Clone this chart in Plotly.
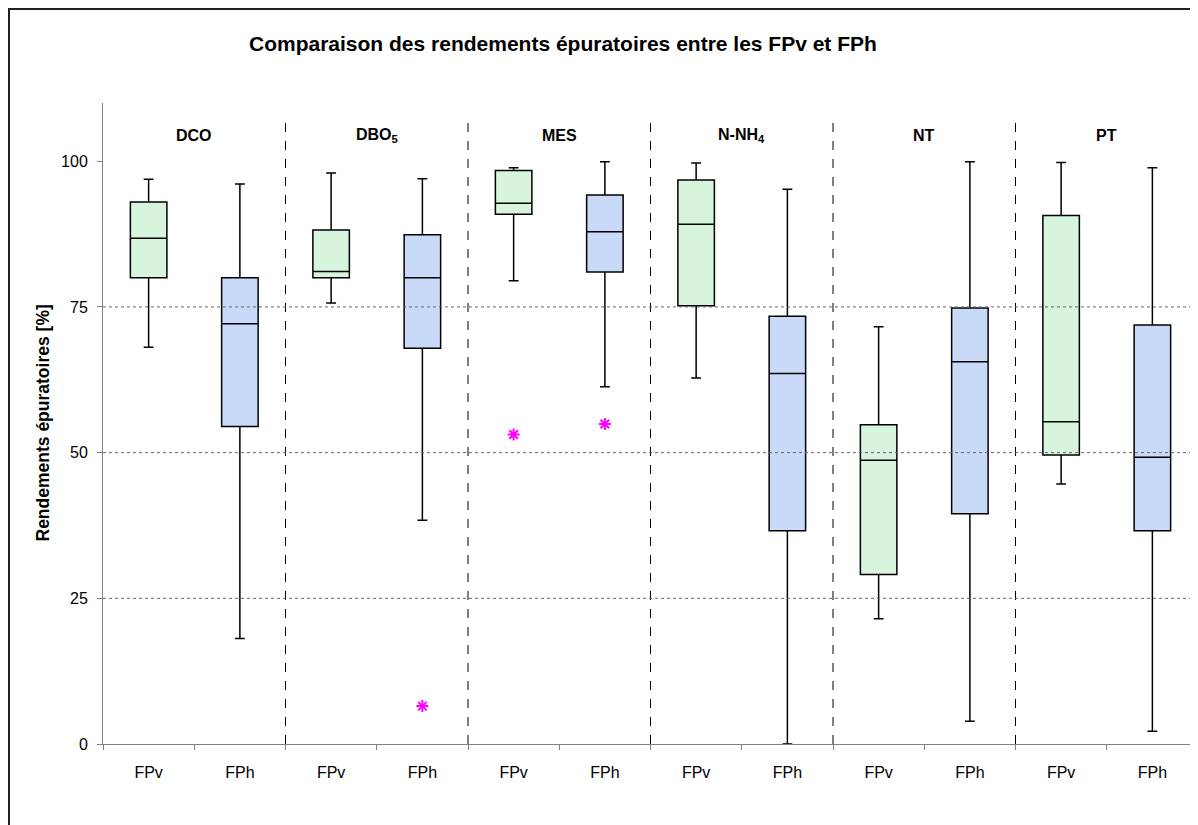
import plotly.graph_objects as go

# Data (rendements épuratoires, %)
groups = ["DCO", "DBO<sub>5</sub>", "MES", "N-NH<sub>4</sub>", "NT", "PT"]
filieres = ["FPv", "FPh"]

lower = [68.1, 18.1, 75.7, 38.4, 79.5, 61.3, 62.8, 0.0, 21.5, 3.9, 44.6, 2.2]
q1 = [80.0, 54.5, 80.0, 67.9, 90.9, 81.0, 75.2, 36.6, 29.1, 39.5, 49.6, 36.6]
median = [86.8, 72.1, 81.1, 80.0, 92.8, 87.9, 89.2, 63.6, 48.7, 65.6, 55.3, 49.2]
q3 = [93.0, 80.0, 88.2, 87.4, 98.4, 94.2, 96.8, 73.4, 54.8, 74.8, 90.7, 71.9]
upper = [96.9, 96.1, 98.0, 97.0, 98.9, 99.9, 99.7, 95.2, 71.6, 99.9, 99.8, 98.9]

outlier_idx = [3, 4, 5]
outlier_val = [6.5, 53.1, 54.9]

grid_vals = [25, 50, 75]
ytick_vals = [0, 25, 50, 75, 100]

colors = {"FPv": "#d7f4dc", "FPh": "#c9d9f8"}

# page body has an 8px margin, so the figure starts at (8, 8) on screen
OFF = 8
W, H = 1190, 817
ML, MR, MT, MB = 95, 0, 95, 81


def px_x(p):
    # screen pixel -> paper fraction
    return (p - OFF - ML) / (W - ML - MR)


def px_y(p):
    return 1 - (p - OFF - MT) / (H - MT - MB)


labels = [f for g in groups for f in filieres]
x = list(range(len(labels)))

fig = go.Figure()

for i, lab in enumerate(labels):
    fig.add_trace(go.Box(
        x=[x[i]],
        q1=[q1[i]], median=[median[i]], q3=[q3[i]],
        lowerfence=[lower[i]], upperfence=[upper[i]],
        width=0.4, whiskerwidth=0.27,
        fillcolor=colors[lab],
        line=dict(color="black", width=1.5),
        boxpoints=False, showlegend=False, hoverinfo="skip",
    ))

# outliers
fig.add_trace(go.Scatter(
    x=[x[i] for i in outlier_idx], y=outlier_val, mode="markers",
    marker=dict(symbol="asterisk-open", size=10, color="#ff00ff",
                line=dict(color="#ff00ff", width=2)),
    showlegend=False,
))

# dotted horizontal lines
for v in grid_vals:
    fig.add_shape(type="line", xref="paper", x0=0, x1=1, yref="y", y0=v, y1=v,
                  line=dict(color="#666", width=1, dash="dot"), layer="above")

# dashed separators between groups
for k in range(1, len(groups)):
    xv = 2 * k - 0.5
    fig.add_shape(type="line", xref="x", x0=xv, x1=xv, yref="y", y0=0, y1=106.7,
                  line=dict(color="black", width=1, dash="dash"), layer="below")

# group names
for k, g in enumerate(groups):
    fig.add_annotation(x=2 * k + 0.5, xref="x", y=px_y(136), yref="paper",
                       yanchor="middle", xanchor="center",
                       text=f"<b>{g}</b>", showarrow=False,
                       font=dict(size=16, color="black"))

# outer frame
fig.add_shape(type="rect", xref="paper", yref="paper",
              x0=px_x(9), x1=px_x(1240), y0=px_y(870), y1=px_y(9),
              line=dict(color="#222", width=2), layer="below")

fig.add_annotation(x=px_x(563), y=px_y(43), xref="paper", yref="paper",
                   xanchor="center", yanchor="middle",
                   text="<b>Comparaison des rendements épuratoires entre les FPv et FPh</b>",
                   showarrow=False, font=dict(size=21, color="black"))

fig.add_annotation(x=px_x(42), y=0.5, xref="paper", yref="paper",
                   xanchor="center", yanchor="middle",
                   text="<b>Rendements épuratoires [%]</b>", textangle=-90,
                   showarrow=False, font=dict(size=17.5, color="black"))

fig.update_xaxes(
    range=[-0.5, len(labels) - 0.5], tickvals=x, ticktext=labels,
    ticks="", showgrid=False, zeroline=False,
    showline=True, linecolor="#808080", linewidth=1,
    ticklabelstandoff=14,
    tickfont=dict(size=16, color="black"),
    minor=dict(tickvals=[i - 0.5 for i in range(len(labels) + 1)],
               ticks="outside", ticklen=5, tickcolor="#808080", showgrid=False),
)
fig.update_yaxes(
    range=[0, 110], tickvals=ytick_vals, ticks="outside", ticklen=5,
    tickcolor="#808080", showgrid=False, zeroline=False,
    showline=True, linecolor="#808080", linewidth=1,
    ticklabelstandoff=6,
    tickfont=dict(size=16, color="black"),
)

fig.update_layout(
    width=W, height=H,
    margin=dict(l=ML, r=MR, t=MT, b=MB),
    paper_bgcolor="white", plot_bgcolor="white",
    font=dict(family="Liberation Sans, Arial, sans-serif"),
    showlegend=False,
)

fig.write_html("out.html")
